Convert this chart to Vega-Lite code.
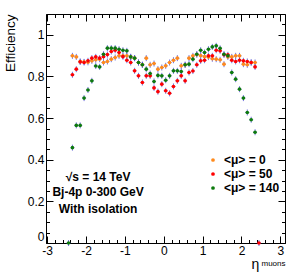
{
  "$schema": "https://vega.github.io/schema/vega-lite/v6.json",
  "width": 239,
  "height": 229,
  "autosize": "none",
  "padding": {"left": 46, "top": 14, "right": 6, "bottom": 36},
  "background": "white",
  "config": {
    "view": {"stroke": "black", "strokeWidth": 1},
    "axis": {"labelFont": "Liberation Sans", "labelFontSize": 12, "labelColor": "black", "tickColor": "black", "grid": false, "domain": false, "titleFont": "Liberation Sans", "titleColor": "black", "titleFontWeight": "normal"}
  },
  "datasets": {
    "one": [{"k": 1}],
    "eff": [
      {"series": "<μ> = 0", "eta": -2.35, "eff": 0.899}, {"series": "<μ> = 0", "eta": -2.25, "eff": 0.894}, {"series": "<μ> = 0", "eta": -2.15, "eff": 0.872}, {"series": "<μ> = 0", "eta": -2.05, "eff": 0.870}, {"series": "<μ> = 0", "eta": -1.95, "eff": 0.868}, {"series": "<μ> = 0", "eta": -1.85, "eff": 0.875}, {"series": "<μ> = 0", "eta": -1.75, "eff": 0.880}, {"series": "<μ> = 0", "eta": -1.65, "eff": 0.883}, {"series": "<μ> = 0", "eta": -1.55, "eff": 0.867}, {"series": "<μ> = 0", "eta": -1.45, "eff": 0.872}, {"series": "<μ> = 0", "eta": -1.35, "eff": 0.883}, {"series": "<μ> = 0", "eta": -1.25, "eff": 0.891}, {"series": "<μ> = 0", "eta": -1.15, "eff": 0.899}, {"series": "<μ> = 0", "eta": -1.05, "eff": 0.899}, {"series": "<μ> = 0", "eta": -0.95, "eff": 0.899}, {"series": "<μ> = 0", "eta": -0.85, "eff": 0.894}, {"series": "<μ> = 0", "eta": -0.75, "eff": 0.888}, {"series": "<μ> = 0", "eta": -0.65, "eff": 0.867}, {"series": "<μ> = 0", "eta": -0.55, "eff": 0.856}, {"series": "<μ> = 0", "eta": -0.45, "eff": 0.888}, {"series": "<μ> = 0", "eta": -0.35, "eff": 0.856}, {"series": "<μ> = 0", "eta": -0.25, "eff": 0.862}, {"series": "<μ> = 0", "eta": -0.15, "eff": 0.835}, {"series": "<μ> = 0", "eta": -0.05, "eff": 0.843}, {"series": "<μ> = 0", "eta": 0.05, "eff": 0.851}, {"series": "<μ> = 0", "eta": 0.15, "eff": 0.867}, {"series": "<μ> = 0", "eta": 0.25, "eff": 0.878}, {"series": "<μ> = 0", "eta": 0.35, "eff": 0.888}, {"series": "<μ> = 0", "eta": 0.45, "eff": 0.851}, {"series": "<μ> = 0", "eta": 0.55, "eff": 0.856}, {"series": "<μ> = 0", "eta": 0.65, "eff": 0.888}, {"series": "<μ> = 0", "eta": 0.75, "eff": 0.899}, {"series": "<μ> = 0", "eta": 0.85, "eff": 0.905}, {"series": "<μ> = 0", "eta": 0.95, "eff": 0.900}, {"series": "<μ> = 0", "eta": 1.05, "eff": 0.895}, {"series": "<μ> = 0", "eta": 1.15, "eff": 0.893}, {"series": "<μ> = 0", "eta": 1.25, "eff": 0.885}, {"series": "<μ> = 0", "eta": 1.35, "eff": 0.883}, {"series": "<μ> = 0", "eta": 1.45, "eff": 0.880}, {"series": "<μ> = 0", "eta": 1.55, "eff": 0.859}, {"series": "<μ> = 0", "eta": 1.65, "eff": 0.894}, {"series": "<μ> = 0", "eta": 1.75, "eff": 0.894}, {"series": "<μ> = 0", "eta": 1.85, "eff": 0.899}, {"series": "<μ> = 0", "eta": 1.95, "eff": 0.899}, {"series": "<μ> = 0", "eta": 2.05, "eff": 0.859}, {"series": "<μ> = 0", "eta": 2.15, "eff": 0.856}, {"series": "<μ> = 0", "eta": 2.25, "eff": 0.867}, {"series": "<μ> = 0", "eta": 2.35, "eff": 0.867},
      {"series": "<μ> = 50", "eta": -2.35, "eff": 0.808}, {"series": "<μ> = 50", "eta": -2.25, "eff": 0.835}, {"series": "<μ> = 50", "eta": -2.15, "eff": 0.870}, {"series": "<μ> = 50", "eta": -2.05, "eff": 0.867}, {"series": "<μ> = 50", "eta": -1.95, "eff": 0.875}, {"series": "<μ> = 50", "eta": -1.85, "eff": 0.888}, {"series": "<μ> = 50", "eta": -1.75, "eff": 0.894}, {"series": "<μ> = 50", "eta": -1.65, "eff": 0.888}, {"series": "<μ> = 50", "eta": -1.55, "eff": 0.895}, {"series": "<μ> = 50", "eta": -1.45, "eff": 0.905}, {"series": "<μ> = 50", "eta": -1.35, "eff": 0.920}, {"series": "<μ> = 50", "eta": -1.25, "eff": 0.926}, {"series": "<μ> = 50", "eta": -1.15, "eff": 0.915}, {"series": "<μ> = 50", "eta": -1.05, "eff": 0.895}, {"series": "<μ> = 50", "eta": -0.95, "eff": 0.878}, {"series": "<μ> = 50", "eta": -0.85, "eff": 0.867}, {"series": "<μ> = 50", "eta": -0.75, "eff": 0.827}, {"series": "<μ> = 50", "eta": -0.65, "eff": 0.803}, {"series": "<μ> = 50", "eta": -0.55, "eff": 0.771}, {"series": "<μ> = 50", "eta": -0.45, "eff": 0.803}, {"series": "<μ> = 50", "eta": -0.35, "eff": 0.803}, {"series": "<μ> = 50", "eta": -0.25, "eff": 0.745}, {"series": "<μ> = 50", "eta": -0.15, "eff": 0.727}, {"series": "<μ> = 50", "eta": -0.05, "eff": 0.763}, {"series": "<μ> = 50", "eta": 0.05, "eff": 0.731}, {"series": "<μ> = 50", "eta": 0.15, "eff": 0.719}, {"series": "<μ> = 50", "eta": 0.25, "eff": 0.752}, {"series": "<μ> = 50", "eta": 0.35, "eff": 0.779}, {"series": "<μ> = 50", "eta": 0.45, "eff": 0.803}, {"series": "<μ> = 50", "eta": 0.55, "eff": 0.779}, {"series": "<μ> = 50", "eta": 0.65, "eff": 0.819}, {"series": "<μ> = 50", "eta": 0.75, "eff": 0.826}, {"series": "<μ> = 50", "eta": 0.85, "eff": 0.856}, {"series": "<μ> = 50", "eta": 0.95, "eff": 0.875}, {"series": "<μ> = 50", "eta": 1.05, "eff": 0.878}, {"series": "<μ> = 50", "eta": 1.15, "eff": 0.899}, {"series": "<μ> = 50", "eta": 1.25, "eff": 0.899}, {"series": "<μ> = 50", "eta": 1.35, "eff": 0.926}, {"series": "<μ> = 50", "eta": 1.45, "eff": 0.923}, {"series": "<μ> = 50", "eta": 1.55, "eff": 0.904}, {"series": "<μ> = 50", "eta": 1.65, "eff": 0.904}, {"series": "<μ> = 50", "eta": 1.75, "eff": 0.878}, {"series": "<μ> = 50", "eta": 1.85, "eff": 0.872}, {"series": "<μ> = 50", "eta": 1.95, "eff": 0.878}, {"series": "<μ> = 50", "eta": 2.05, "eff": 0.875}, {"series": "<μ> = 50", "eta": 2.15, "eff": 0.872}, {"series": "<μ> = 50", "eta": 2.25, "eff": 0.867}, {"series": "<μ> = 50", "eta": 2.35, "eff": 0.846}, {"series": "<μ> = 50", "eta": 2.45, "eff": 0.0},
      {"series": "<μ> = 140", "eta": -2.45, "eff": 0.0}, {"series": "<μ> = 140", "eta": -2.35, "eff": 0.458}, {"series": "<μ> = 140", "eta": -2.25, "eff": 0.565}, {"series": "<μ> = 140", "eta": -2.15, "eff": 0.565}, {"series": "<μ> = 140", "eta": -2.05, "eff": 0.696}, {"series": "<μ> = 140", "eta": -1.95, "eff": 0.735}, {"series": "<μ> = 140", "eta": -1.85, "eff": 0.779}, {"series": "<μ> = 140", "eta": -1.75, "eff": 0.850}, {"series": "<μ> = 140", "eta": -1.65, "eff": 0.846}, {"series": "<μ> = 140", "eta": -1.55, "eff": 0.907}, {"series": "<μ> = 140", "eta": -1.45, "eff": 0.936}, {"series": "<μ> = 140", "eta": -1.35, "eff": 0.936}, {"series": "<μ> = 140", "eta": -1.25, "eff": 0.936}, {"series": "<μ> = 140", "eta": -1.15, "eff": 0.931}, {"series": "<μ> = 140", "eta": -1.05, "eff": 0.926}, {"series": "<μ> = 140", "eta": -0.95, "eff": 0.923}, {"series": "<μ> = 140", "eta": -0.85, "eff": 0.894}, {"series": "<μ> = 140", "eta": -0.75, "eff": 0.888}, {"series": "<μ> = 140", "eta": -0.65, "eff": 0.867}, {"series": "<μ> = 140", "eta": -0.55, "eff": 0.856}, {"series": "<μ> = 140", "eta": -0.45, "eff": 0.835}, {"series": "<μ> = 140", "eta": -0.35, "eff": 0.814}, {"series": "<μ> = 140", "eta": -0.25, "eff": 0.776}, {"series": "<μ> = 140", "eta": -0.15, "eff": 0.805}, {"series": "<μ> = 140", "eta": -0.05, "eff": 0.803}, {"series": "<μ> = 140", "eta": 0.05, "eff": 0.782}, {"series": "<μ> = 140", "eta": 0.15, "eff": 0.803}, {"series": "<μ> = 140", "eta": 0.25, "eff": 0.827}, {"series": "<μ> = 140", "eta": 0.35, "eff": 0.827}, {"series": "<μ> = 140", "eta": 0.45, "eff": 0.824}, {"series": "<μ> = 140", "eta": 0.55, "eff": 0.856}, {"series": "<μ> = 140", "eta": 0.65, "eff": 0.859}, {"series": "<μ> = 140", "eta": 0.75, "eff": 0.883}, {"series": "<μ> = 140", "eta": 0.85, "eff": 0.907}, {"series": "<μ> = 140", "eta": 0.95, "eff": 0.926}, {"series": "<μ> = 140", "eta": 1.05, "eff": 0.915}, {"series": "<μ> = 140", "eta": 1.15, "eff": 0.931}, {"series": "<μ> = 140", "eta": 1.25, "eff": 0.942}, {"series": "<μ> = 140", "eta": 1.35, "eff": 0.947}, {"series": "<μ> = 140", "eta": 1.45, "eff": 0.935}, {"series": "<μ> = 140", "eta": 1.55, "eff": 0.907}, {"series": "<μ> = 140", "eta": 1.65, "eff": 0.899}, {"series": "<μ> = 140", "eta": 1.75, "eff": 0.819}, {"series": "<μ> = 140", "eta": 1.85, "eff": 0.787}, {"series": "<μ> = 140", "eta": 1.95, "eff": 0.739}, {"series": "<μ> = 140", "eta": 2.05, "eff": 0.696}, {"series": "<μ> = 140", "eta": 2.15, "eff": 0.627}, {"series": "<μ> = 140", "eta": 2.25, "eff": 0.592}, {"series": "<μ> = 140", "eta": 2.35, "eff": 0.532}
    ]
  },
  "resolve": {"axis": {"x": "independent", "y": "independent"}},
  "layer": [
    {
      "data": {"name": "eff"},
      "mark": {"type": "point", "shape": "M-0.67,0L0.67,0M0,-1L0,1", "filled": false, "stroke": "#4646d2", "strokeWidth": 1, "opacity": 0.75, "size": 36},
      "encoding": {
        "x": {"field": "eta", "type": "quantitative", "scale": {"domain": [-3.03, 3.12], "nice": false, "zero": false},
          "axis": {"orient": "bottom", "values": [-3, -2, -1, 0, 1, 2, 3], "tickSize": -7, "labelPadding": 9, "labelExpr": "'' + datum.value", "title": "η", "titleFontSize": 14, "titleX": 209, "titleY": 25, "titleAlign": "center", "titleBaseline": "alphabetic"}},
        "y": {"field": "eff", "type": "quantitative", "scale": {"domain": [0, 1.1], "nice": false, "zero": false},
          "axis": {"orient": "left", "values": [0, 0.2, 0.4, 0.6, 0.8, 1], "tickSize": -7, "labelPadding": 9, "labelFlush": true, "labelExpr": "'' + datum.value", "title": "Efficiency", "titleFontSize": 13.5, "titleAngle": -90, "titleX": -36, "titleY": 0, "titleAlign": "right", "titleBaseline": "middle"}}
      }
    },
    {
      "data": {"name": "eff"},
      "mark": {"type": "point", "shape": "circle", "filled": true, "opacity": 1, "size": 13, "strokeWidth": 0},
      "encoding": {
        "x": {"field": "eta", "type": "quantitative",
          "axis": {"orient": "bottom", "values": [-3, -2.8, -2.6, -2.4, -2.2, -2, -1.8, -1.6, -1.4, -1.2, -1, -0.8, -0.6, -0.4, -0.2, 0, 0.2, 0.4, 0.6, 0.8, 1, 1.2, 1.4, 1.6, 1.8, 2, 2.2, 2.4, 2.6, 2.8, 3], "tickSize": -3.5, "labels": false, "title": "muons", "titleFontSize": 8, "titleX": 215, "titleY": 22.5, "titleAlign": "left", "titleBaseline": "alphabetic"}},
        "y": {"field": "eff", "type": "quantitative",
          "axis": {"orient": "left", "values": [0, 0.05, 0.1, 0.15, 0.2, 0.25, 0.3, 0.35, 0.4, 0.45, 0.5, 0.55, 0.6, 0.65, 0.7, 0.75, 0.8, 0.85, 0.9, 0.95, 1, 1.05, 1.1], "tickSize": -3.5, "labels": false, "title": null}},
        "color": {"field": "series", "type": "nominal",
          "scale": {"domain": ["<μ> = 0", "<μ> = 50", "<μ> = 140"], "range": ["#ff8a1c", "#ff0000", "#0d7a0d"]},
          "legend": {"orient": "none", "legendX": 161, "legendY": 140, "title": null, "padding": 0, "labelFont": "Liberation Sans", "labelFontWeight": "bold", "labelFontSize": 12, "labelColor": "black", "symbolType": "circle", "symbolSize": 14, "symbolStrokeWidth": 0, "rowPadding": 2, "labelOffset": 5}}
      }
    },
    {
      "data": {"name": "one"},
      "mark": {"type": "text", "text": "√s = 14 TeV", "font": "Liberation Sans", "fontWeight": "bold", "fontSize": 12, "align": "center", "baseline": "middle", "color": "black"},
      "encoding": {
        "x": {"datum": -1.69, "type": "quantitative", "axis": {"orient": "top", "values": [-3, -2, -1, 0, 1, 2, 3], "tickSize": -7, "labels": false, "title": null}},
        "y": {"datum": 0.317, "type": "quantitative", "axis": {"orient": "right", "values": [0, 0.2, 0.4, 0.6, 0.8, 1], "tickSize": -7, "labels": false, "title": null}}
      }
    },
    {
      "data": {"name": "one"},
      "mark": {"type": "text", "text": "Bj-4p 0-300 GeV", "font": "Liberation Sans", "fontWeight": "bold", "fontSize": 12, "align": "center", "baseline": "middle", "color": "black"},
      "encoding": {
        "x": {"datum": -1.69, "type": "quantitative", "axis": {"orient": "top", "values": [-3, -2.8, -2.6, -2.4, -2.2, -2, -1.8, -1.6, -1.4, -1.2, -1, -0.8, -0.6, -0.4, -0.2, 0, 0.2, 0.4, 0.6, 0.8, 1, 1.2, 1.4, 1.6, 1.8, 2, 2.2, 2.4, 2.6, 2.8, 3], "tickSize": -3.5, "labels": false, "title": null}},
        "y": {"datum": 0.245, "type": "quantitative", "axis": {"orient": "right", "values": [0, 0.05, 0.1, 0.15, 0.2, 0.25, 0.3, 0.35, 0.4, 0.45, 0.5, 0.55, 0.6, 0.65, 0.7, 0.75, 0.8, 0.85, 0.9, 0.95, 1, 1.05, 1.1], "tickSize": -3.5, "labels": false, "title": null}}
      }
    },
    {
      "data": {"name": "one"},
      "mark": {"type": "text", "text": "With isolation", "font": "Liberation Sans", "fontWeight": "bold", "fontSize": 12, "align": "center", "baseline": "middle", "color": "black"},
      "encoding": {
        "x": {"datum": -1.69, "type": "quantitative", "axis": null},
        "y": {"datum": 0.161, "type": "quantitative", "axis": null}
      }
    }
  ]
}
